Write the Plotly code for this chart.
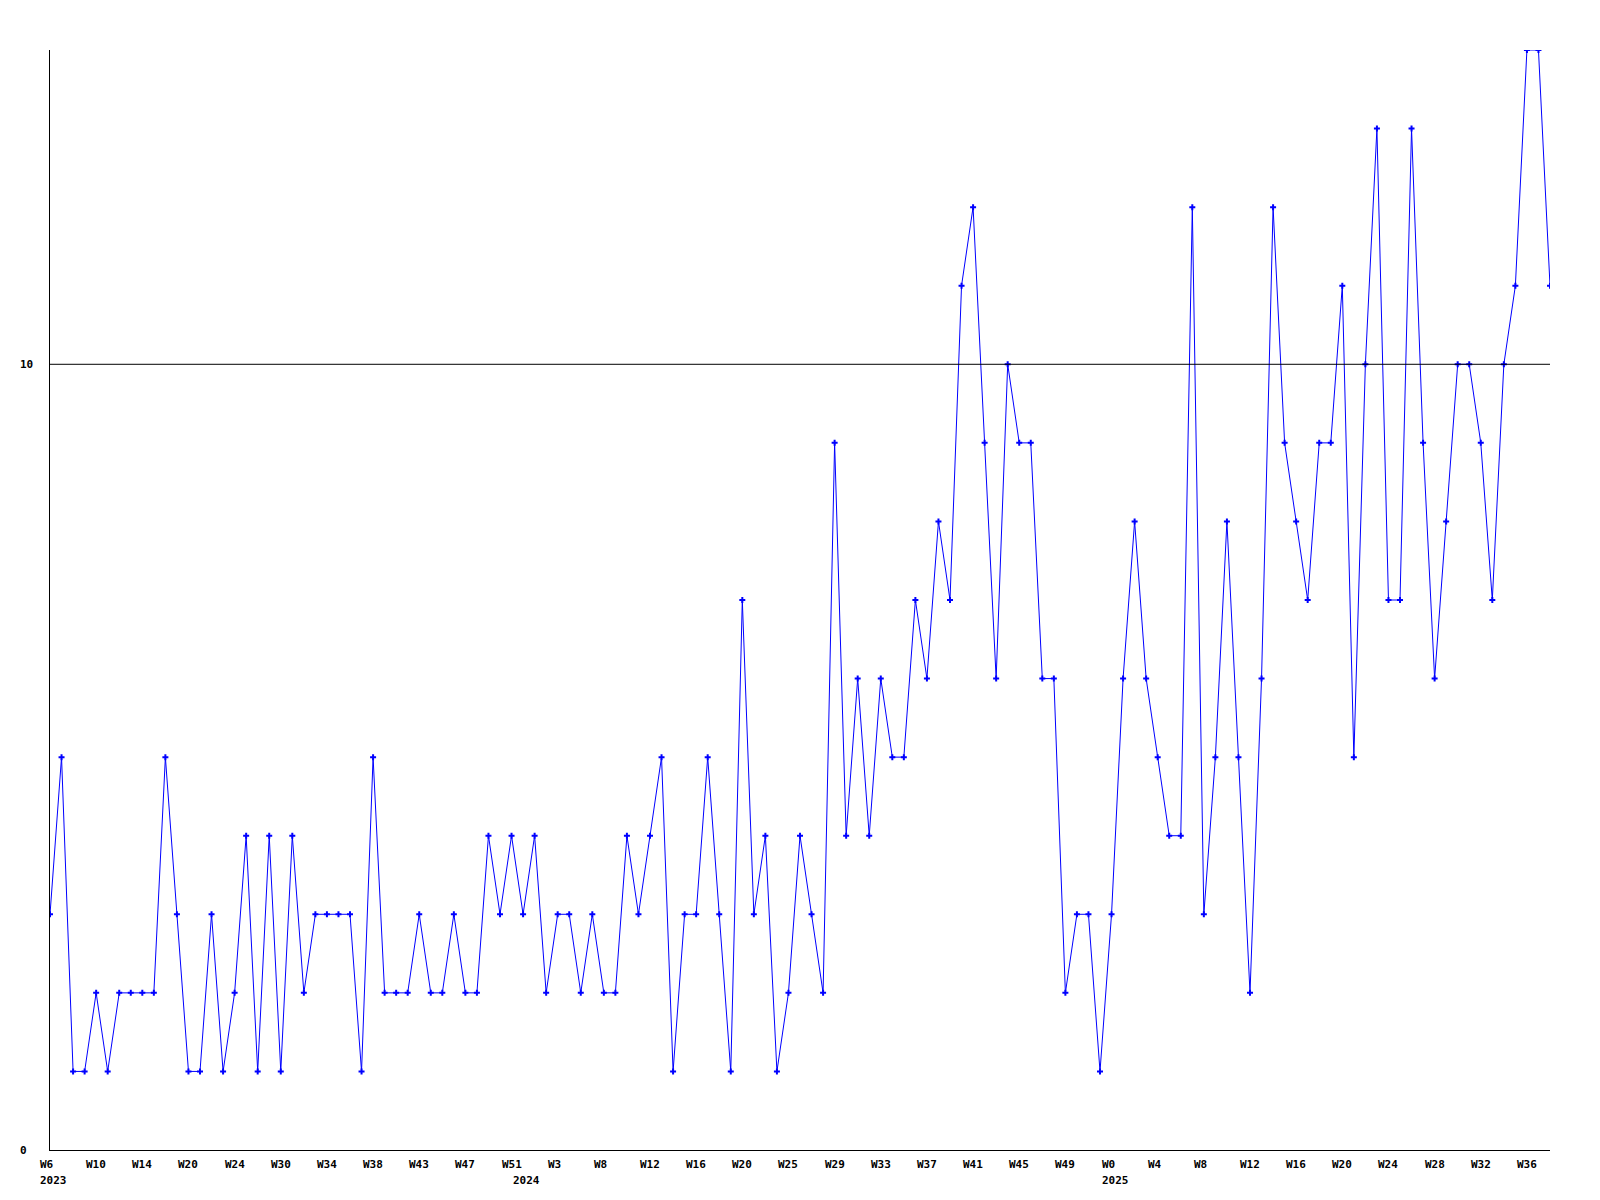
import plotly.graph_objects as go

# Weekly values (one per point, evenly spaced)
values = [
    3, 5, 1, 1, 2, 1, 2, 2, 2, 2,
    5, 3, 1, 1, 3, 1, 2, 4, 1, 4,
    1, 4, 2, 3, 3, 3, 3, 1, 5, 2,
    2, 2, 3, 2, 2, 3, 2, 2, 4, 3,
    4, 3, 4, 2, 3, 3, 2, 3, 2, 2,
    4, 3, 4, 5, 1, 3, 3, 5, 3, 1,
    7, 3, 4, 1, 2, 4, 3, 2, 9, 4,
    6, 4, 6, 5, 5, 7, 6, 8, 7, 11,
    12, 9, 6, 10, 9, 9, 6, 6, 2, 3,
    3, 1, 3, 6, 8, 6, 5, 4, 4, 12,
    3, 5, 8, 5, 2, 6, 12, 9, 8, 7,
    9, 9, 11, 5, 10, 13, 7, 7, 13, 9,
    6, 8, 10, 10, 9, 7, 10, 11, 14, 14,
    11,
]

# Tick labels shown every 4th point
week_labels = ["W6", "W10", "W14", "W20", "W24", "W30", "W34", "W38", "W43",
               "W47", "W51", "W3", "W8", "W12", "W16", "W20", "W25", "W29",
               "W33", "W37", "W41", "W45", "W49", "W0", "W4", "W8", "W12",
               "W16", "W20", "W24", "W28", "W32", "W36"]
label_step = 4

# Year labels and the point index where each year begins
year_labels = ["2023", "2024", "2025"]
year_start_index = [0, 41, 92]

y_ticks = [0, 10]

x = list(range(len(values)))

FONT = "DejaVu Sans Mono"

fig = go.Figure()
fig.add_trace(go.Scatter(
    x=x, y=values, mode="lines+markers",
    line=dict(color="#0000ff", width=1),
    marker=dict(symbol="cross", size=5, color="#0000ff", line=dict(width=0)),
    hoverinfo="skip", showlegend=False,
))

annotations = []
for i, lab in enumerate(week_labels):
    annotations.append(dict(
        x=i * label_step, y=0, xref="x", yref="paper",
        text="<b>%s</b>" % lab, showarrow=False,
        xanchor="left", yanchor="middle", xshift=-12, yshift=-14,
        font=dict(family=FONT, size=11, color="black"),
    ))
for lab, idx in zip(year_labels, year_start_index):
    annotations.append(dict(
        x=idx, y=0, xref="x", yref="paper",
        text="<b>%s</b>" % lab, showarrow=False,
        xanchor="left", yanchor="middle", xshift=-12, yshift=-30,
        font=dict(family=FONT, size=11, color="black"),
    ))
for t in y_ticks:
    annotations.append(dict(
        x=0, y=t, xref="paper", yref="y",
        text="<b>%d</b>" % t, showarrow=False,
        xanchor="left", yanchor="middle", xshift=-32, yshift=0,
        font=dict(family=FONT, size=11, color="black"),
    ))

shapes = [dict(type="line", xref="paper", x0=0, x1=1, yref="y", y0=t, y1=t,
               line=dict(color="black", width=1), layer="above")
          for t in y_ticks if t != 0]

fig.update_layout(
    width=1600, height=1200,
    margin=dict(l=42, r=58, t=42, b=58),
    paper_bgcolor="white", plot_bgcolor="white",
    annotations=annotations, shapes=shapes,
    xaxis=dict(range=[0, len(values) - 1], showgrid=False, zeroline=False,
               showticklabels=False, ticks="", showline=True,
               linecolor="black", linewidth=1),
    yaxis=dict(range=[0, 14], showgrid=False, zeroline=False,
               showticklabels=False, ticks="", showline=True,
               linecolor="black", linewidth=1),
)

fig.write_html("out.html")
